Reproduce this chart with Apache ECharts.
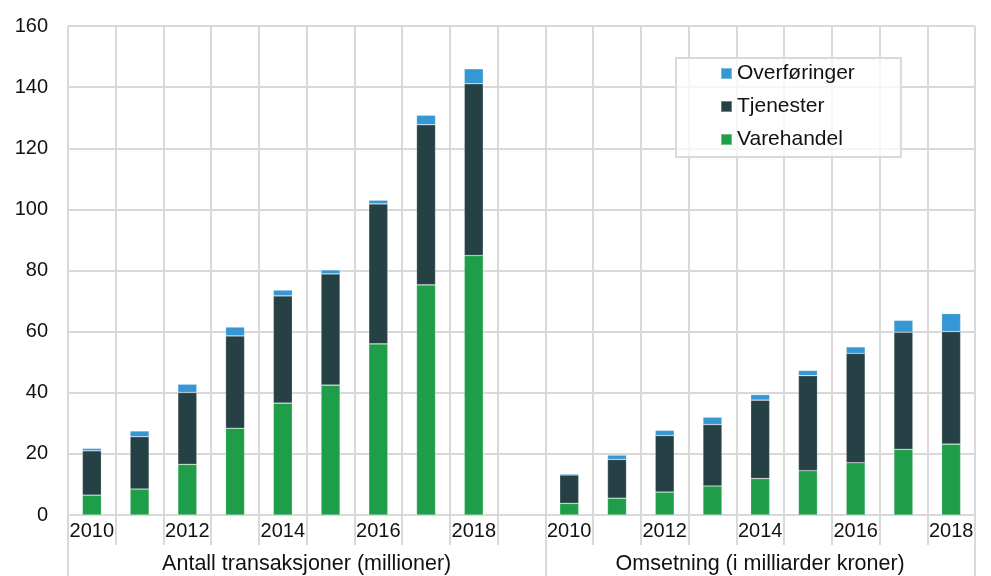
<!DOCTYPE html>
<html>
<head>
<meta charset="utf-8">
<script src="https://cdn.jsdelivr.net/npm/echarts@6/dist/echarts.min.js"></script>
<style>
html,body{margin:0;padding:0;background:#fff;}
#chart{width:991px;height:576px;}
</style>
</head>
<body>
<div id="chart"></div>
<script>
// Categories: group 1 (2010-2018) + gap + group 2 (2010-2018)
const categories = ['2010','2011','2012','2013','2014','2015','2016','2017','2018','',
                    '2010','2011','2012','2013','2014','2015','2016','2017','2018'];
const groupLabels = ['Antall transaksjoner (millioner)', 'Omsetning (i milliarder kroner)'];
const yTicks = [0, 20, 40, 60, 80, 100, 120, 140, 160];

const varehandel   = [6.5, 8.5, 16.6, 28.4, 36.6, 42.5, 56.0, 75.3, 84.9, null,
                      3.8, 5.5, 7.5, 9.5, 11.9, 14.5, 17.1, 21.5, 23.2];
const tjenester    = [14.5, 17.1, 23.5, 30.2, 35.1, 36.4, 45.8, 52.4, 56.2, null,
                      9.3, 12.7, 18.5, 20.1, 25.7, 31.1, 35.8, 38.3, 36.8];
const overforinger = [0.8, 1.9, 2.7, 2.9, 1.9, 1.3, 1.2, 3.1, 4.9, null,
                      0.4, 1.4, 1.7, 2.4, 1.8, 1.7, 2.1, 3.9, 5.9];

const GRID = '#d9d9d9';
const FONT = 'Liberation Sans, Arial, sans-serif';

const chart = echarts.init(document.getElementById('chart'), null, {renderer: 'canvas'});
const barStyle = (c) => ({color: c, borderColor: 'rgba(255,255,255,0.35)', borderWidth: 0.6});
chart.setOption({
  animation: false,
  backgroundColor: '#fff',
  textStyle: {fontFamily: FONT},
  grid: {left: 68, right: 16, top: 26, bottom: 61, containLabel: false},
  legend: {
    orient: 'vertical',
    left: 676, top: 58,
    data: ['Overføringer', 'Tjenester', 'Varehandel'],
    icon: 'rect',
    itemWidth: 11, itemHeight: 11,
    itemGap: 10,
    padding: [4, 46, 6, 44],
    backgroundColor: 'rgba(255,255,255,0.75)',
    borderColor: GRID, borderWidth: 2,
    textStyle: {fontFamily: FONT, fontSize: 21, color: '#111', lineHeight: 23},
    selectedMode: false
  },
  xAxis: [
    {
      type: 'category',
      data: categories,
      boundaryGap: true,
      axisLine: {show: true, lineStyle: {color: GRID, width: 2}},
      axisTick: {show: true, interval: 0, length: 30, lineStyle: {color: GRID, width: 2}},
      splitLine: {show: true, interval: 0, lineStyle: {color: GRID, width: 2}},
      axisLabel: {interval: 1, margin: 6, fontSize: 20, color: '#111', fontFamily: FONT}
    },
    {
      type: 'value',
      position: 'bottom',
      offset: 30,
      min: 0, max: categories.length,
      axisLine: {show: false},
      splitLine: {show: false},
      axisTick: {show: true, length: 32, customValues: [0, 10, categories.length],
                 lineStyle: {color: GRID, width: 2}},
      axisLabel: {
        show: true, margin: 8, fontSize: 21.5, color: '#111', fontFamily: FONT,
        customValues: [5, 14.5],
        formatter: (v) => (v < 10 ? groupLabels[0] : groupLabels[1])
      }
    }
  ],
  yAxis: {
    type: 'value',
    min: yTicks[0], max: yTicks[yTicks.length - 1], interval: 20,
    axisLine: {show: false},
    axisTick: {show: false},
    splitLine: {show: true, lineStyle: {color: GRID, width: 2}},
    axisLabel: {margin: 20, fontSize: 20, color: '#111', fontFamily: FONT}
  },
  series: [
    {name: 'Varehandel', type: 'bar', stack: 'a', xAxisIndex: 0, barWidth: 19,
     data: varehandel, itemStyle: barStyle('#1e9e49')},
    {name: 'Tjenester', type: 'bar', stack: 'a', xAxisIndex: 0, barWidth: 19,
     data: tjenester, itemStyle: barStyle('#264146')},
    {name: 'Overføringer', type: 'bar', stack: 'a', xAxisIndex: 0, barWidth: 19,
     data: overforinger, itemStyle: barStyle('#3597d4')}
  ]
});
</script>
</body>
</html>
